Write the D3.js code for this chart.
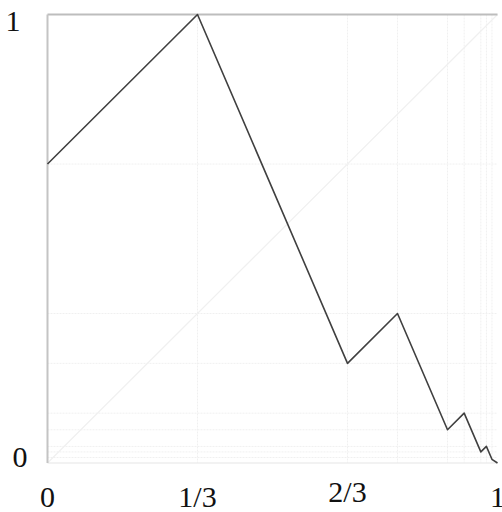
<!DOCTYPE html>
<html><head><meta charset="utf-8">
<script src="https://cdn.jsdelivr.net/npm/d3@7/dist/d3.min.js"></script>
<style>html,body{margin:0;padding:0;background:#fff;}svg{display:block;}</style>
</head><body>
<svg id="c" width="502" height="512"></svg>
<script>
// Data
const xs = [0, 1/3, 2/3, 7/9, 8/9, 25/27, 26/27, 79/81, 80/81, 1];
const ys = [2/3, 1, 2/9, 1/3, 2/27, 1/9, 2/81, 1/27, 2/243, 0];
const gridX = [1/3, 2/3, 7/9, 8/9, 25/27, 26/27, 79/81, 80/81];
const gridY = [2/3, 1/3, 2/9, 1/9, 2/27, 1/27, 2/81, 1/81];
const xTickVals = [0, 1/3, 2/3, 1];
const xTickLabels = ["0", "1/3", "2/3", "1"];
const yTickVals = [1, 0];
const yTickLabels = ["1", "0"];

const svg = d3.select("#c");
const x = d3.scaleLinear().domain([0, 1]).range([47.5, 497.5]);
const y = d3.scaleLinear().domain([0, 1]).range([463, 14.5]);

// faint grid
svg.append("g").selectAll("line").data(gridX).join("line")
  .attr("x1", d => x(d)).attr("x2", d => x(d)).attr("y1", y(1)).attr("y2", y(0))
  .attr("stroke", "#f0f0f0").attr("stroke-width", 1).attr("stroke-dasharray", "2,1");
svg.append("g").selectAll("line").data(gridY).join("line")
  .attr("x1", x(0)).attr("x2", x(1)).attr("y1", d => y(d)).attr("y2", d => y(d))
  .attr("stroke", "#f0f0f0").attr("stroke-width", 1).attr("stroke-dasharray", "2,1");
// diagonal
svg.append("line").attr("x1", x(0)).attr("y1", y(0)).attr("x2", x(1)).attr("y2", y(1))
  .attr("stroke", "#f0f0f0").attr("stroke-width", 1.2);
// bottom faint line
svg.append("line").attr("x1", x(0)).attr("x2", x(1)).attr("y1", y(0)).attr("y2", y(0))
  .attr("stroke", "#eeeeee").attr("stroke-width", 1.5);
// frame: top and left
svg.append("line").attr("x1", x(0)).attr("x2", x(1)).attr("y1", y(1)).attr("y2", y(1))
  .attr("stroke", "#bdbdbd").attr("stroke-width", 2);
svg.append("line").attr("x1", x(0)).attr("x2", x(0)).attr("y1", y(1)).attr("y2", y(0))
  .attr("stroke", "#c4c4c4").attr("stroke-width", 2);

// function line
const pts = xs.map((d, i) => [d, ys[i]]);
svg.append("path").datum(pts)
  .attr("d", d3.line().x(d => x(d[0])).y(d => y(d[1])))
  .attr("fill", "none").attr("stroke", "#404040").attr("stroke-width", 1.6)
  .attr("stroke-linejoin", "round");

// tick labels
const font = "'Liberation Serif','Times New Roman',serif";
svg.append("g").selectAll("text").data(xTickVals).join("text")
  .attr("x", d => x(d)).attr("y", (d, i) => i === 2 ? 502 : 507)
  .attr("text-anchor", "middle").attr("font-family", font).attr("font-size", 30)
  .attr("fill", "#111").text((d, i) => xTickLabels[i]);
svg.append("g").selectAll("text").data(yTickVals).join("text")
  .attr("x", (d, i) => i === 0 ? 13 : 20).attr("y", d => y(d) + (d === 1 ? 16 : 4))
  .attr("text-anchor", "middle").attr("font-family", font).attr("font-size", 30)
  .attr("fill", "#111").text((d, i) => yTickLabels[i]);
</script>
</body></html>
